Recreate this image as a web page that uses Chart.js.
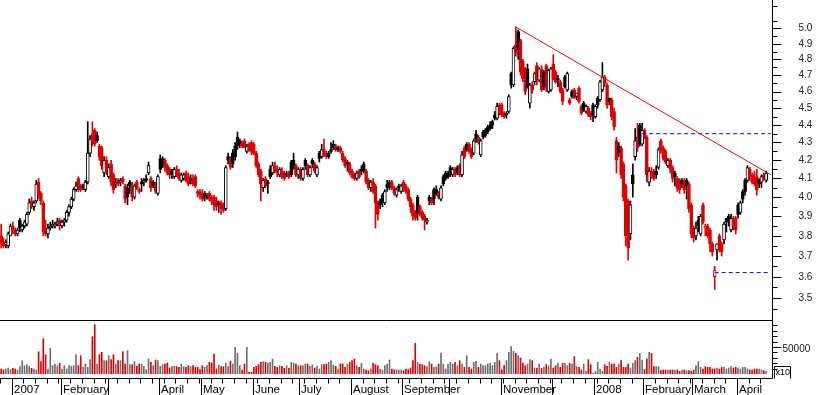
<!DOCTYPE html>
<html><head><meta charset="utf-8">
<script src="https://cdn.jsdelivr.net/npm/chart.js@4/dist/chart.umd.min.js"></script>
<style>
html,body{margin:0;padding:0;background:#fff;}
#wrap{position:relative;width:817px;height:395px;overflow:hidden;background:#fff;}
#pc{position:absolute;left:0;top:0;}
#vc{position:absolute;left:0;top:320px;}
</style></head><body>
<div id="wrap"><canvas id="pc" width="817" height="320"></canvas><canvas id="vc" width="817" height="75"></canvas></div>
<script>
// ---- daily OHLC (late Dec 2006 .. mid April 2008) ----
const openP = [
3.80,3.77,3.76,3.75,3.80,
3.85,3.83,3.81,3.88,3.83,3.85,3.86,3.92,3.98,3.95,3.98,4.08,4.02,3.97,3.84,3.81,3.84,3.85,3.85,3.86,3.88,
3.85,3.87,3.88,3.92,3.95,3.99,4.04,4.10,4.05,4.06,4.04,4.08,4.24,4.35,4.37,4.34,4.28,4.27,4.13,4.20,
4.11,4.18,4.12,4.07,4.09,4.08,4.10,4.06,4.05,4.08,4.06,4.00,4.08,4.04,4.08,4.08,4.10,4.13,4.10,4.08,4.07,4.02,
4.21,4.21,4.20,4.17,4.15,4.14,4.11,4.15,4.13,4.09,4.10,4.13,4.11,4.10,4.10,4.11,4.03,4.03,
4.02,4.02,4.01,4.02,4.00,4.00,3.98,3.97,3.97,3.96,3.94,4.22,4.21,4.24,4.28,4.33,4.31,4.30,4.31,4.25,4.29,4.30,
4.29,4.24,4.18,4.14,4.05,4.10,4.08,4.15,4.13,4.17,4.15,4.12,4.14,4.13,4.13,4.13,4.19,4.20,4.17,4.12,
4.15,4.10,4.20,4.17,4.12,4.20,4.18,4.12,4.24,4.22,4.26,4.24,4.24,4.26,4.29,4.28,4.27,4.27,4.24,4.21,4.19,4.18,
4.14,4.12,4.10,4.14,4.15,4.18,4.14,4.09,4.05,4.08,4.06,3.97,3.98,4.01,3.97,4.07,4.08,4.08,4.05,4.01,4.06,4.03,
4.08,4.06,4.04,3.99,3.96,3.92,4.00,3.95,3.92,3.90,3.87,4.00,3.99,4.04,4.04,4.02,3.99,4.11,4.13,4.13,
4.16,4.12,4.15,4.16,4.17,4.12,4.27,4.29,4.29,4.26,4.24,4.35,4.33,4.23,4.36,4.37,4.39,4.40,4.42,4.46,4.44,4.52,
4.52,4.47,4.46,4.48,4.71,4.64,4.89,4.98,4.92,4.79,4.74,4.74,4.53,4.64,4.66,4.76,4.67,4.74,4.72,4.76,4.60,4.61,
4.77,4.72,4.68,4.66,4.61,4.69,4.61,4.55,4.60,4.61,4.57,4.62,4.51,4.53,4.48,4.50,4.47,4.52,
4.45,4.56,4.55,4.61,4.69,4.64,4.56,4.55,4.48,4.31,4.28,4.27,4.18,4.06,3.98,3.81,4.12,4.22,4.33,4.40,4.29,4.37,
4.33,4.08,4.14,4.14,4.14,4.16,4.31,4.27,4.25,4.17,4.20,4.16,4.13,4.10,4.09,4.09,4.09,4.09,4.07,3.96,
3.84,3.80,3.88,3.81,3.96,3.84,3.85,3.83,3.76,3.60,3.73,3.80,3.76,3.78,3.89,3.90,3.83,3.89,3.89,
3.96,3.92,4.03,4.09,4.09,4.15,4.12,4.10,4.11,4.09,4.08,4.12,4.09];
const highP = [
3.86,3.79,3.78,3.82,3.86,
3.87,3.84,3.84,3.89,3.86,3.88,3.92,3.99,4.00,3.98,4.09,4.10,4.03,3.98,3.88,3.86,3.87,3.88,3.87,3.89,3.89,
3.88,3.89,3.93,3.96,4.00,4.05,4.08,4.11,4.07,4.07,4.09,4.42,4.34,4.42,4.38,4.36,4.29,4.28,4.22,4.22,
4.18,4.20,4.13,4.10,4.10,4.10,4.11,4.07,4.07,4.09,4.08,4.07,4.09,4.05,4.10,4.10,4.12,4.19,4.11,4.09,4.08,4.12,
4.23,4.22,4.21,4.18,4.16,4.15,4.16,4.17,4.15,4.13,4.13,4.14,4.13,4.12,4.12,4.12,4.04,4.04,
4.04,4.03,4.02,4.03,4.01,4.01,4.00,3.98,3.98,3.97,4.17,4.24,4.22,4.26,4.30,4.36,4.32,4.31,4.32,4.29,4.30,4.31,
4.30,4.25,4.19,4.15,4.10,4.11,4.09,4.17,4.19,4.19,4.17,4.16,4.16,4.14,4.14,4.14,4.20,4.24,4.18,4.16,
4.16,4.16,4.21,4.18,4.17,4.21,4.19,4.17,4.25,4.29,4.32,4.25,4.25,4.30,4.31,4.29,4.28,4.28,4.25,4.22,4.20,4.19,
4.15,4.13,4.14,4.15,4.17,4.19,4.15,4.10,4.09,4.10,4.07,3.98,3.99,4.02,4.04,4.09,4.09,4.09,4.06,4.05,4.07,4.07,
4.09,4.07,4.05,4.00,3.97,3.93,4.01,3.96,3.93,3.91,3.89,4.01,4.00,4.05,4.06,4.03,4.06,4.12,4.14,4.14,
4.17,4.16,4.16,4.17,4.18,4.25,4.28,4.30,4.30,4.27,4.32,4.37,4.34,4.32,4.37,4.38,4.40,4.42,4.43,4.48,4.53,4.53,
4.53,4.48,4.48,4.58,4.72,4.88,5.01,4.99,4.93,4.80,4.75,4.77,4.65,4.66,4.72,4.78,4.75,4.76,4.73,4.77,4.74,4.75,
4.83,4.73,4.70,4.67,4.62,4.70,4.72,4.56,4.61,4.62,4.59,4.63,4.52,4.54,4.52,4.51,4.48,4.53,
4.52,4.57,4.67,4.78,4.70,4.65,4.56,4.56,4.50,4.33,4.30,4.28,4.19,4.07,3.99,3.98,4.18,4.38,4.41,4.41,4.41,4.38,
4.34,4.16,4.16,4.15,4.17,4.27,4.32,4.28,4.26,4.21,4.21,4.17,4.14,4.11,4.10,4.10,4.10,4.10,4.08,3.97,
3.85,3.87,3.90,3.91,3.97,3.86,3.86,3.84,3.77,3.65,3.76,3.81,3.77,3.87,3.89,3.91,3.91,3.90,3.90,
3.97,3.98,4.04,4.10,4.17,4.16,4.13,4.14,4.15,4.10,4.12,4.13,4.14];
const lowP = [
3.74,3.74,3.74,3.74,3.80,
3.81,3.80,3.80,3.82,3.82,3.84,3.85,3.91,3.94,3.93,3.97,3.99,3.96,3.80,3.80,3.79,3.83,3.84,3.84,3.85,3.83,
3.84,3.85,3.87,3.90,3.94,3.98,4.03,4.03,4.03,4.04,4.03,4.07,4.22,4.28,4.28,4.30,4.20,4.15,4.11,4.12,
4.10,4.06,4.02,4.05,4.06,4.06,4.07,3.97,3.96,4.02,3.98,3.99,4.04,4.02,4.03,4.06,4.08,4.12,4.03,4.05,4.02,4.01,
4.13,4.16,4.14,4.12,4.10,4.10,4.10,4.11,4.09,4.08,4.09,4.08,4.06,4.07,4.06,4.05,4.00,3.99,
3.98,3.98,3.99,3.98,3.96,3.93,3.93,3.92,3.91,3.92,3.93,4.18,4.15,4.16,4.20,4.26,4.27,4.27,4.27,4.24,4.25,4.23,
4.23,4.16,4.11,3.98,4.03,4.05,4.02,4.10,4.12,4.13,4.11,4.11,4.10,4.09,4.11,4.10,4.11,4.15,4.11,4.10,
4.09,4.09,4.15,4.11,4.11,4.16,4.13,4.11,4.19,4.21,4.22,4.21,4.21,4.24,4.26,4.25,4.25,4.24,4.19,4.16,4.14,4.12,
4.10,4.09,4.09,4.10,4.12,4.13,4.07,4.04,4.03,4.02,3.84,3.88,3.94,3.95,3.96,4.03,4.04,4.04,4.01,4.00,4.03,4.02,
4.03,4.02,3.98,3.92,3.88,3.88,3.88,3.90,3.88,3.83,3.86,3.96,3.96,3.96,4.01,3.99,3.98,4.06,4.09,4.10,
4.11,4.11,4.11,4.12,4.11,4.11,4.21,4.25,4.24,4.21,4.23,4.30,4.29,4.22,4.32,4.33,4.35,4.37,4.38,4.43,4.43,4.46,
4.45,4.44,4.44,4.47,4.62,4.63,4.82,4.80,4.70,4.66,4.58,4.62,4.50,4.59,4.64,4.64,4.66,4.60,4.61,4.60,4.59,4.60,
4.67,4.65,4.63,4.59,4.52,4.62,4.60,4.52,4.56,4.56,4.55,4.53,4.46,4.48,4.47,4.45,4.43,4.42,
4.44,4.50,4.54,4.60,4.63,4.50,4.52,4.43,4.37,4.13,4.22,4.10,3.98,3.75,3.68,3.78,4.00,4.20,4.25,4.28,4.28,4.32,
4.08,4.06,4.10,4.09,4.10,4.15,4.24,4.20,4.18,4.16,4.13,4.08,4.06,4.03,4.02,4.05,4.02,3.99,3.92,3.79,
3.77,3.78,3.82,3.80,3.86,3.80,3.79,3.72,3.70,3.54,3.68,3.72,3.70,3.76,3.82,3.85,3.82,3.83,3.81,
3.89,3.91,3.97,4.01,4.08,4.09,4.07,4.06,4.01,4.05,4.05,4.09,4.08];
const closeP = [
3.76,3.75,3.76,3.81,3.85,
3.83,3.81,3.83,3.84,3.85,3.87,3.91,3.97,3.95,3.97,4.07,4.01,3.98,3.82,3.81,3.84,3.85,3.86,3.86,3.87,3.85,
3.87,3.88,3.92,3.95,3.99,4.04,4.06,4.05,4.04,4.05,4.08,4.24,4.32,4.30,4.29,4.31,4.22,4.17,4.20,4.13,
4.16,4.08,4.04,4.08,4.07,4.09,4.08,3.99,4.00,4.06,4.00,4.06,4.05,4.03,4.07,4.09,4.09,4.17,4.05,4.06,4.03,4.11,
4.15,4.17,4.16,4.13,4.12,4.12,4.15,4.12,4.10,4.12,4.12,4.09,4.07,4.09,4.07,4.06,4.02,4.01,
3.99,4.00,4.01,3.99,3.98,3.96,3.95,3.96,3.94,3.93,4.16,4.20,4.16,4.18,4.22,4.28,4.29,4.28,4.27,4.28,4.26,4.25,
4.24,4.17,4.12,4.07,4.09,4.06,4.07,4.11,4.17,4.14,4.13,4.15,4.11,4.10,4.12,4.11,4.12,4.16,4.12,4.15,
4.10,4.15,4.17,4.12,4.16,4.18,4.14,4.16,4.21,4.26,4.23,4.22,4.22,4.25,4.27,4.26,4.26,4.25,4.20,4.17,4.18,4.13,
4.11,4.10,4.13,4.11,4.14,4.14,4.08,4.05,4.08,4.03,3.97,3.91,3.96,3.97,4.03,4.05,4.06,4.05,4.02,4.04,4.05,4.06,
4.05,4.03,3.99,3.95,3.90,3.89,3.92,3.91,3.89,3.88,3.88,3.98,3.97,3.99,4.02,4.00,4.05,4.07,4.10,4.11,
4.13,4.15,4.12,4.13,4.12,4.23,4.22,4.26,4.25,4.22,4.31,4.32,4.30,4.31,4.33,4.34,4.36,4.38,4.40,4.44,4.51,4.47,
4.46,4.45,4.47,4.57,4.64,4.87,4.84,4.86,4.72,4.68,4.60,4.63,4.64,4.61,4.71,4.67,4.74,4.61,4.63,4.62,4.73,4.74,
4.68,4.66,4.67,4.60,4.54,4.63,4.71,4.53,4.57,4.56,4.59,4.54,4.47,4.49,4.51,4.46,4.45,4.46,
4.51,4.52,4.66,4.69,4.65,4.52,4.54,4.45,4.39,4.20,4.24,4.12,4.00,3.80,3.74,3.96,4.07,4.31,4.27,4.29,4.37,4.33,
4.12,4.14,4.11,4.10,4.12,4.26,4.25,4.21,4.19,4.20,4.15,4.10,4.11,4.05,4.04,4.07,4.04,4.06,3.94,3.81,
3.79,3.84,3.85,3.90,3.87,3.85,3.80,3.76,3.72,3.63,3.76,3.74,3.72,3.86,3.87,3.88,3.89,3.85,3.83,
3.91,3.97,3.99,4.03,4.16,4.11,4.08,4.07,4.04,4.07,4.11,4.10,4.13];
// ---- daily volume (axis units, x10) ----
const volume = [
9300,7400,9300,11100,8000,10500,9300,7400,13600,24700,
15400,17300,14200,10500,9300,7400,41300,22800,65400,35800,
9300,47500,15400,18500,15400,19700,9300,15400,9300,15400,
14200,15400,35800,15400,33900,12300,18500,12300,26500,69100,
91300,18500,35800,40100,24700,24700,33900,26500,35800,18500,
24700,24700,41300,18500,43200,17300,17300,22800,14200,18500,
18500,14200,8000,27800,21600,15400,25900,24700,14200,17300,
18500,20400,11100,13600,14200,13600,12300,18500,13600,12300,
15400,13600,15400,12300,12300,8000,15400,12300,15400,21600,
20400,37000,9300,16700,13600,13600,20400,13600,23400,18500,
49400,38300,15400,7400,18500,49400,3100,3100,12300,14200,
17300,21600,22800,21600,20400,21600,27800,14200,12300,15400,
14200,10500,15400,10500,21600,20400,18500,15400,15400,15400,
18500,18500,14200,16700,11100,14200,9300,17300,17300,18500,
21600,24700,16700,14200,9300,18500,18500,12300,18500,21600,
24700,27800,15400,12300,19700,9300,7400,6200,9300,19700,
17300,15400,9300,7400,15400,18500,25900,9300,7400,8000,
7400,7400,6200,9300,8000,11100,24700,56800,21600,18500,
17300,15400,13600,22800,18500,12300,13600,18500,38900,18500,
9300,18500,21600,18500,21600,15400,24700,18500,12300,33900,
12300,9300,21600,23400,12300,18500,15400,15400,18500,20400,
15400,21600,38300,24700,7400,15400,24700,40100,50600,42000,
38300,33900,29600,20400,15400,18500,26500,24700,11100,11100,
18500,10500,12300,17300,15400,27800,11100,15400,20400,12300,
19700,19700,15400,19700,18500,32100,13600,12300,7400,18500,
4900,26500,17300,1900,4900,21600,9300,4900,17300,14200,
21600,18500,18500,12300,18500,24700,12300,12300,18500,11100,
19700,24700,30800,38300,25900,8000,27800,40100,38300,13600,
13600,13600,6200,7400,7400,7400,7400,7400,7400,7400,
4900,7400,7400,6200,6200,4900,7400,15400,22800,12300,
9300,13600,12300,12300,9300,9300,11100,9300,12300,12300,
9300,11100,13600,11100,12300,11100,9300,12300,12300,9300,
7400,7400,9300,9300,9300,7400,6200,4900];
// ---- axis labels (empty = tick without a label, as in the original) ----
const monthStart = [5,26,46,68,86,108,128,150,172,192,214,236,254,275,296,315];
const monthLabels = ['2007','February','','April','May','June','July','August','September','','November','','2008','February','March','April'];
const priceTicks = [3.5,3.6,3.7,3.8,3.9,4.0,4.1,4.2,4.3,4.4,4.5,4.6,4.7,4.8,4.9,5.0];
const priceMinorTicks = [3.45,3.55,3.65,3.75,3.85,3.95,4.05,4.15,4.25,4.35,4.45,4.55,4.65,4.75,4.85,4.95,5.05,5.15];
const volumeTicks = [10000,20000,30000,40000,50000,60000,70000,80000,90000];
const volumeLabelTicks = [50000];
// ---- drawn lines ----
const trendLine = [{x:220,y:5.01},{x:329,y:4.12}];
const resistLine = [{x:274,y:4.35},{x:329,y:4.35}];
const supportLine = [{x:305,y:3.62},{x:329,y:3.62}];
const SLOTS = 330;

const RED = '#e00000', BLACK = '#000000', GREY = '#707070';
const labels = Array.from({length: SLOTS}, (_, i) => i);
const upDay = closeP.map((c, i) => i === 0 ? c >= openP[i] : c >= closeP[i - 1]);
const candleCol = upDay.map(u => u ? BLACK : RED);
const bodyFill = closeP.map((c, i) => c >= openP[i] ? '#ffffff' : candleCol[i]);
const volCol = upDay.map(u => u ? GREY : RED);
const AXW = 45;
const FONT = '"Liberation Sans", Arial, sans-serif';

const priceAxis = {
  id: 'priceAxis',
  afterDraw(chart) {
    const {ctx, chartArea: a, scales: {y}} = chart;
    const ax = Math.round(a.right) + 0.5;
    ctx.save();
    ctx.strokeStyle = '#000'; ctx.lineWidth = 1;
    ctx.beginPath(); ctx.moveTo(ax, 0); ctx.lineTo(ax, chart.height); ctx.stroke();
    ctx.beginPath();
    priceMinorTicks.forEach(t => { const py = Math.round(y.getPixelForValue(t)) + 0.5; ctx.moveTo(ax, py); ctx.lineTo(ax + 5, py); });
    priceTicks.forEach(t => { const py = Math.round(y.getPixelForValue(t)) + 0.5; ctx.moveTo(ax, py); ctx.lineTo(ax + 9, py); });
    ctx.stroke();
    ctx.fillStyle = '#222'; ctx.font = '10px ' + FONT; ctx.textAlign = 'left'; ctx.textBaseline = 'middle';
    priceTicks.forEach(t => ctx.fillText(t.toFixed(1), ax + 26, y.getPixelForValue(t)));
    ctx.restore();
  }
};

const volAxis = {
  id: 'volAxis',
  afterDraw(chart) {
    const {ctx, chartArea: a, scales: {x, y}} = chart;
    const ax = Math.round(a.right) + 0.5;
    const base = 58.5;
    ctx.save();
    ctx.strokeStyle = '#000'; ctx.lineWidth = 1;
    ctx.beginPath();
    ctx.moveTo(0, 0.5); ctx.lineTo(ax, 0.5);
    ctx.moveTo(ax, 0); ctx.lineTo(ax, base);
    ctx.moveTo(0, base); ctx.lineTo(ax, base);
    volumeTicks.forEach(t => { const py = Math.round(y.getPixelForValue(t)) + 0.5; const L = volumeLabelTicks.includes(t) ? 9 : 5; ctx.moveTo(ax, py); ctx.lineTo(ax + L, py); });
    ctx.stroke();
    ctx.fillStyle = '#222'; ctx.font = '10px ' + FONT; ctx.textBaseline = 'middle'; ctx.textAlign = 'left';
    volumeLabelTicks.forEach(t => ctx.fillText(String(t), ax + 10, y.getPixelForValue(t) + 2));
    // x10 multiplier box
    ctx.beginPath();
    ctx.moveTo(ax + 2, 46.5); ctx.lineTo(ax + 18, 46.5); ctx.lineTo(ax + 18, base);
    ctx.moveTo(ax + 2, 46.5); ctx.lineTo(ax + 2, base);
    ctx.stroke();
    ctx.font = '9px ' + FONT; ctx.fillStyle = '#000';
    ctx.fillText('x10', ax + 3, 52.5);
    // time axis
    const half = (x.getPixelForValue(1) - x.getPixelForValue(0)) / 2;
    const edge = i => Math.round(x.getPixelForValue(i) - half) + 0.5;
    ctx.beginPath();
    for (let i = 0; i < closeP.length; i += 5) { const px = edge(i); ctx.moveTo(px, base); ctx.lineTo(px, base + 5); }
    monthStart.forEach(i => { const px = edge(i); ctx.moveTo(px, base); ctx.lineTo(px, 75); });
    ctx.stroke();
    ctx.font = '11.5px ' + FONT; ctx.fillStyle = '#000'; ctx.textBaseline = 'alphabetic';
    monthStart.forEach((i, k) => { if (monthLabels[k]) ctx.fillText(monthLabels[k], edge(i) + 1.5, 73); });
    ctx.restore();
  }
};

const commonY = {ticks: {display: false}, grid: {display: false}, border: {display: false}, afterFit(s) { s.width = AXW; }};

new Chart(document.getElementById('pc'), {
  type: 'bar',
  data: {labels, datasets: [
    {type: 'line', data: trendLine, borderColor: '#ff0000', borderWidth: 1, pointRadius: 0, order: -3},
    {type: 'line', data: resistLine, borderColor: '#0000ff', borderWidth: 1, borderDash: [4, 3], pointRadius: 0, order: -2},
    {type: 'line', data: supportLine, borderColor: '#0000ff', borderWidth: 1, borderDash: [4, 3], pointRadius: 0, order: -1},
    {data: openP.map((o, i) => [o, closeP[i]]), backgroundColor: bodyFill, borderColor: candleCol, borderWidth: 1,
     borderSkipped: false, barThickness: 3, minBarLength: 1, grouped: false, order: 0},
    {data: lowP.map((l, i) => [l, highP[i]]), backgroundColor: candleCol, borderWidth: 0, barThickness: 1, grouped: false, order: 1}
  ]},
  options: {
    responsive: false, animation: false, events: [], devicePixelRatio: 1,
    layout: {padding: 0},
    plugins: {legend: {display: false}, tooltip: {enabled: false}},
    scales: {
      x: {display: false, offset: true},
      y: Object.assign({type: 'logarithmic', position: 'right', min: 3.423, max: 5.192}, commonY)
    }
  },
  plugins: [priceAxis]
});

new Chart(document.getElementById('vc'), {
  type: 'bar',
  data: {labels, datasets: [
    {data: volume, backgroundColor: volCol, barThickness: 1, grouped: false}
  ]},
  options: {
    responsive: false, animation: false, events: [], devicePixelRatio: 1,
    layout: {padding: {top: 0, bottom: 21, left: 0, right: 0}},
    plugins: {legend: {display: false}, tooltip: {enabled: false}},
    scales: {
      x: {display: false, offset: true},
      y: Object.assign({type: 'linear', position: 'right', min: 0, max: 100000}, commonY)
    }
  },
  plugins: [volAxis]
});
</script>
</body></html>
